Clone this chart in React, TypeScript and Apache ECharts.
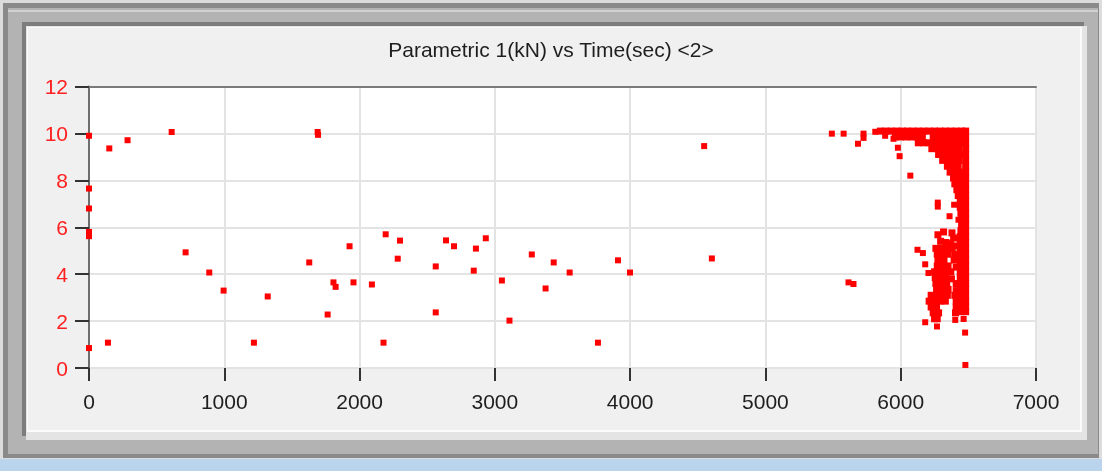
import React, { useEffect, useRef } from "react";
import * as echarts from "echarts";

const chartTitle = "Parametric 1(kN) vs Time(sec) <2>";
const timeRange = [0, 7000];
const timeStep = 1000;
const loadRange = [0, 12];
const loadStep = 2;

// sparse readings [time (sec), load (kN)]
const sparsePoints: [number, number][] = [
  [0, 9.9], [0, 7.65], [0, 6.8], [0, 5.8], [0, 5.62], [0, 0.85],
  [140, 1.08], [150, 9.36], [285, 9.71], [611, 10.06], [714, 4.93], [889, 4.07],
  [995, 3.3], [1219, 1.08], [1321, 3.05], [1628, 4.5], [1690, 10.06], [1693, 9.94],
  [1764, 2.28], [1807, 3.65], [1823, 3.46], [1926, 5.19], [1955, 3.65], [2091, 3.56],
  [2177, 1.08], [2193, 5.7], [2282, 4.66], [2299, 5.43], [2563, 4.33], [2563, 2.37],
  [2639, 5.44], [2698, 5.19], [2844, 4.15], [2860, 5.09], [2933, 5.53], [3052, 3.73],
  [3108, 2.02], [3273, 4.84], [3375, 3.39], [3435, 4.5], [3553, 4.07], [3762, 1.08],
  [3910, 4.59], [3999, 4.07], [4547, 9.46], [4604, 4.67],
];

// readings around the end of the test
const edgePoints: [number, number][] = [
  [5491, 9.99], [5578, 9.99], [5614, 3.65], [5651, 3.58], [5684, 9.56], [5725, 9.99],
  [5725, 9.81], [5812, 10.07], [5885, 9.9], [5947, 9.77], [5979, 9.39], [5992, 9.03],
  [6071, 8.2], [6124, 5.04], [6164, 4.9], [6181, 4.42], [6205, 4.05], [6181, 1.95],
  [6268, 1.77], [6403, 2.05], [6465, 2.09], [6476, 1.51], [6478, 0.13], [6274, 7.05],
  [6274, 6.88], [6395, 6.96], [6361, 6.47], [6427, 6.32],
];

const denseTopPoints: [number, number][] = [
  [5850, 10.1], [5890, 10.1], [5930, 10.1], [5970, 10.1], [6010, 10.1], [6050, 10.1],
  [6090, 10.1], [6130, 10.1], [6170, 10.1], [6210, 10.1], [6250, 10.1], [6290, 10.1],
  [6330, 10.1], [6370, 10.1], [6410, 10.1], [6450, 10.1], [6480, 10.1],
  [5960, 9.85], [6000, 9.85], [6040, 9.85], [6080, 9.85], [6120, 9.85], [6160, 9.85],
  [6240, 9.85], [6280, 9.85], [6320, 9.85], [6360, 9.85], [6400, 9.85], [6440, 9.85], [6480, 9.85],
  [6130, 9.6], [6170, 9.6], [6210, 9.6], [6250, 9.6], [6290, 9.6], [6330, 9.6],
  [6370, 9.6], [6410, 9.6], [6450, 9.6], [6480, 9.6],
  [6230, 9.35], [6270, 9.35], [6310, 9.35], [6350, 9.35], [6390, 9.35], [6430, 9.35], [6480, 9.35],
  [6280, 9.1], [6320, 9.1], [6360, 9.1], [6400, 9.1], [6440, 9.1], [6480, 9.1],
  [6310, 8.85], [6350, 8.85], [6390, 8.85], [6430, 8.85], [6480, 8.85],
  [6345, 8.6], [6385, 8.6], [6425, 8.6], [6480, 8.6],
  [6365, 8.35], [6405, 8.35], [6445, 8.35], [6480, 8.35],
  [6390, 8.1], [6435, 8.1], [6480, 8.1],
  [6400, 7.85], [6440, 7.85], [6480, 7.85],
  [6415, 7.6], [6450, 7.6], [6480, 7.6],
  [6425, 7.35], [6460, 7.35], [6480, 7.35],
  [6440, 7.1], [6480, 7.1], [6440, 6.85], [6480, 6.85], [6445, 6.6], [6480, 6.6],
  [6450, 6.35], [6480, 6.35], [6450, 6.1], [6480, 6.1], [6445, 5.85], [6480, 5.85],
  [6440, 5.6], [6480, 5.6],
];

const denseLowPoints: [number, number][] = [
  [6440, 5.35], [6480, 5.35], [6440, 5.1], [6480, 5.1], [6440, 4.85], [6480, 4.85],
  [6440, 4.6], [6480, 4.6], [6440, 4.35], [6480, 4.35], [6440, 4.1], [6480, 4.1],
  [6440, 3.85], [6480, 3.85], [6440, 3.6], [6480, 3.6], [6440, 3.35], [6480, 3.35],
  [6440, 3.1], [6480, 3.1], [6440, 2.85], [6480, 2.85], [6440, 2.6], [6480, 2.6],
  [6445, 2.4], [6480, 2.4],
  [6275, 5.68], [6317, 5.8], [6379, 5.76], [6391, 5.54], [6295, 5.4], [6335, 5.35], [6370, 5.3],
  [6410, 5.2], [6260, 5.1], [6300, 5.1], [6340, 5.1], [6380, 5.1],
  [6270, 4.85], [6310, 4.85], [6350, 4.85], [6400, 4.85],
  [6275, 4.6], [6320, 4.6], [6395, 4.6],
  [6270, 4.35], [6310, 4.35], [6350, 4.35], [6410, 4.3],
  [6250, 4.1], [6290, 4.1], [6330, 4.1], [6370, 4.1],
  [6255, 3.85], [6295, 3.85], [6335, 3.85], [6375, 3.8],
  [6260, 3.6], [6300, 3.6], [6340, 3.6], [6410, 3.6],
  [6265, 3.35], [6305, 3.35], [6350, 3.35], [6410, 3.3],
  [6225, 3.1], [6265, 3.1], [6305, 3.1], [6345, 3.1], [6400, 3.1],
  [6210, 2.85], [6250, 2.85], [6290, 2.85], [6330, 2.85], [6410, 2.85],
  [6225, 2.6], [6265, 2.6], [6410, 2.6],
  [6240, 2.35], [6280, 2.35], [6405, 2.35],
  [6250, 2.1], [6270, 2.1],
];

const FONT = "'Liberation Sans', Arial, sans-serif";

export default function App() {
  const ref = useRef<HTMLDivElement>(null);

  useEffect(() => {
    if (!ref.current) return;
    const chart = echarts.init(ref.current, undefined, { renderer: "svg" });
    const frame = (x: number, y: number, w: number, h: number, fill: string) => ({
      type: "rect",
      z: -10,
      silent: true,
      shape: { x, y, width: w, height: h },
      style: { fill },
    });
    const pointStyle = { color: "#ff0000", opacity: 1, borderWidth: 0 };
    const option: any = {
      animation: false,
      backgroundColor: "transparent",
      graphic: [
        frame(0, 0, 1102, 471, "#dcdcdc"),
        frame(3, 3, 1096, 455, "#8a8a8a"),
        frame(8, 8, 1090, 446, "#b3b3b3"),
        frame(8, 10, 1090, 2, "#d2d2d2"),
        frame(22, 22, 1062, 414, "#7d7d7d"),
        frame(26, 26, 1061, 414, "#e4e4e4"),
        frame(27, 27, 1055, 405, "#fbfbfb"),
        frame(28, 28, 1052, 402, "#f0f0f0"),
        frame(0, 459, 1102, 12, "#bad4ee"),
      ],
      title: {
        text: chartTitle,
        left: "center",
        top: 39,
        padding: 0,
        textStyle: { fontSize: 21, fontWeight: "normal", color: "#1e1e1e", fontFamily: FONT },
      },
      grid: {
        left: 89,
        top: 86.5,
        width: 947,
        height: 281.5,
        show: true,
        backgroundColor: "#ffffff",
        borderWidth: 0,
      },
      xAxis: [
        {
          type: "value",
          min: timeRange[0],
          max: timeRange[1],
          interval: timeStep,
          position: "bottom",
          axisLine: { show: false },
          axisTick: { show: false },
          axisLabel: {
            margin: 23,
            fontSize: 21,
            color: "#1e1e1e",
            fontFamily: FONT,
            formatter: (v: number) => String(v),
          },
          splitLine: { show: true, showMinLine: false, lineStyle: { color: "#e3e3e3", width: 2 } },
        },
        {
          type: "value",
          min: timeRange[0],
          max: timeRange[1],
          interval: timeStep,
          position: "bottom",
          offset: 4,
          axisLine: { show: false },
          axisTick: { show: true, length: 13, lineStyle: { color: "#333333", width: 2 } },
          axisLabel: { show: false },
          splitLine: { show: false },
        },
        {
          type: "value",
          min: timeRange[0],
          max: timeRange[1],
          position: "top",
          axisLine: { show: true, lineStyle: { color: "#7a7a7a", width: 2 } },
          axisTick: { show: false },
          axisLabel: { show: false },
          splitLine: { show: false },
        },
      ],
      yAxis: [
        {
          type: "value",
          min: loadRange[0],
          max: loadRange[1],
          interval: loadStep,
          position: "left",
          axisLine: { show: true, lineStyle: { color: "#6e6e6e", width: 2 } },
          axisTick: { show: false },
          axisLabel: { margin: 21, fontSize: 21, color: "#ff2020", fontFamily: FONT },
          splitLine: { show: true, showMaxLine: false, lineStyle: { color: "#e3e3e3", width: 2 } },
        },
        {
          type: "value",
          min: loadRange[0],
          max: loadRange[1],
          interval: loadStep,
          position: "left",
          offset: 2,
          axisLine: { show: false },
          axisTick: { show: true, length: 14, lineStyle: { color: "#333333", width: 2 } },
          axisLabel: { show: false },
          splitLine: { show: false },
        },
      ],
      series: [
        {
          type: "scatter",
          name: "Parametric 1",
          xAxisIndex: 0,
          yAxisIndex: 0,
          symbol: "rect",
          symbolSize: 6,
          itemStyle: pointStyle,
          emphasis: { disabled: true },
          data: [...sparsePoints, ...edgePoints],
        },
        {
          type: "scatter",
          name: "Parametric 1 (dense)",
          xAxisIndex: 0,
          yAxisIndex: 0,
          symbol: "rect",
          symbolSize: 7,
          itemStyle: pointStyle,
          emphasis: { disabled: true },
          data: [...denseTopPoints, ...denseLowPoints],
        },
      ],
    };
    chart.setOption(option);
    return () => chart.dispose();
  }, []);

  return (
    <div
      ref={ref}
      style={{ position: "fixed", left: 0, top: 0, width: 1102, height: 471 }}
    />
  );
}
